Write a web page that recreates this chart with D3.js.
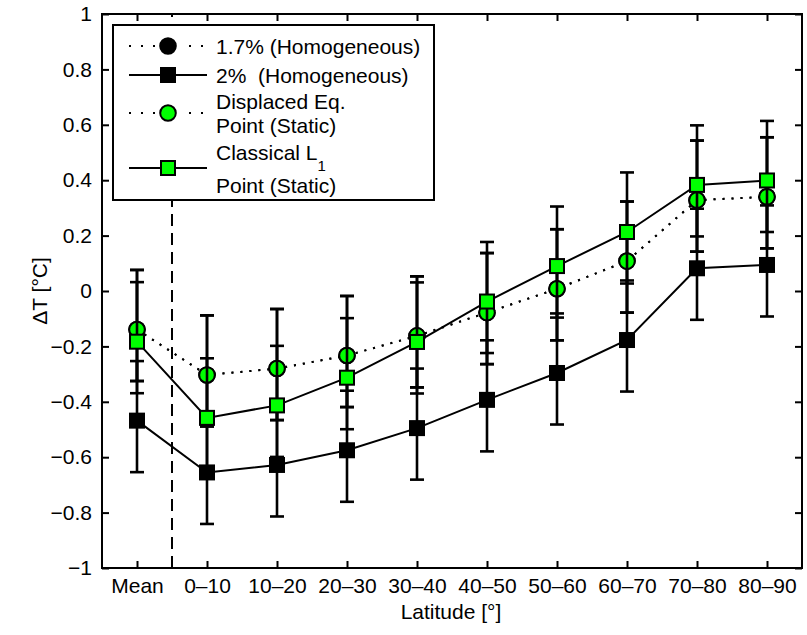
<!DOCTYPE html>
<html>
<head>
<meta charset="utf-8">
<script src="https://cdn.jsdelivr.net/npm/d3@7"></script>
<style>
  html, body { margin: 0; padding: 0; background: #fff; }
  svg text { font-family: "Liberation Sans", Arial, Helvetica, sans-serif; fill: #000; }
</style>
</head>
<body>
<svg id="chart" width="807" height="635"></svg>
<script>
// Latitude bands (index 1..10 on the x axis)
const categories = ["Mean", "0\u201310", "10\u201320", "20\u201330", "30\u201340",
                    "40\u201350", "50\u201360", "60\u201370", "70\u201380", "80\u201390"];

// Temperature change ΔT [°C] for each case
const homog17     = [-0.139, -0.303, -0.280, -0.233, -0.162, -0.078, 0.008, 0.108, 0.328, 0.340];
const homog2      = [-0.468, -0.655, -0.628, -0.575, -0.495, -0.393, -0.296, -0.177, 0.082, 0.094];
const displacedEq = [-0.139, -0.303, -0.280, -0.233, -0.162, -0.078, 0.008, 0.108, 0.328, 0.340];
const classicalL1 = [-0.183, -0.458, -0.413, -0.313, -0.184, -0.038, 0.090, 0.213, 0.383, 0.399];

// Error bar extents (upper / lower) per band
const errUpper = [0.215, 0.215, 0.215, 0.215, 0.215, 0.215, 0.215, 0.215, 0.215, 0.215];
const errLower = [0.186, 0.186, 0.186, 0.186, 0.186, 0.186, 0.186, 0.186, 0.186, 0.186];

const yTicks = [-1, -0.8, -0.6, -0.4, -0.2, 0, 0.2, 0.4, 0.6, 0.8, 1];
const yTickLabels = ["\u22121", "\u22120.8", "\u22120.6", "\u22120.4", "\u22120.2", "0",
                     "0.2", "0.4", "0.6", "0.8", "1"];

const legendLabels = [
  ["1.7% (Homogeneous)"],
  ["2%\u00a0 (Homogeneous)"],
  ["Displaced Eq.", "Point (Static)"],
  ["Classical L", "Point (Static)"]
];

const series = [
  { values: homog17,     marker: "circle", fill: "#000000", dotted: true },
  { values: homog2,      marker: "square", fill: "#000000", dotted: false },
  { values: displacedEq, marker: "circle", fill: "#00ff00", dotted: true },
  { values: classicalL1, marker: "square", fill: "#00ff00", dotted: false }
];

const svg = d3.select("#chart");
const plotL = 102, plotR = 802, plotT = 14, plotB = 568;
const x = d3.scaleLinear().domain([0.5, 10.5]).range([plotL, plotR]);
const y = d3.scaleLinear().domain([-1, 1]).range([plotB, plotT]);
const xIdx = d3.range(1, categories.length + 1);

const fontSize = 21;

// Divider between the mean and the latitude bands
svg.append("line")
  .attr("x1", x(1.5)).attr("x2", x(1.5))
  .attr("y1", y(-1)).attr("y2", y(1))
  .attr("stroke", "#000").attr("stroke-width", 2)
  .attr("stroke-dasharray", "12,7");

function drawMarker(g, type, cx, cy, fill) {
  if (type === "circle") {
    g.append("circle").attr("cx", cx).attr("cy", cy).attr("r", 7.8)
      .attr("fill", fill).attr("stroke", "#000").attr("stroke-width", 2);
  } else {
    const s = fill === "#000000" ? 16 : 14;
    g.append("rect").attr("x", cx - s / 2).attr("y", cy - s / 2)
      .attr("width", s).attr("height", s)
      .attr("fill", fill).attr("stroke", "#000").attr("stroke-width", fill === "#000000" ? 0 : 2);
  }
}

const line = d3.line().x((d, i) => x(xIdx[i])).y(d => y(d));

series.forEach(s => {
  const g = svg.append("g");
  // error bars
  s.values.forEach((v, i) => {
    const cx = x(xIdx[i]);
    const hi = y(v + errUpper[i]), lo = y(v - errLower[i]);
    g.append("line").attr("x1", cx).attr("x2", cx).attr("y1", hi).attr("y2", lo)
      .attr("stroke", "#000").attr("stroke-width", 2.6);
    [hi, lo].forEach(yy => {
      g.append("line").attr("x1", cx - 7).attr("x2", cx + 7).attr("y1", yy).attr("y2", yy)
        .attr("stroke", "#000").attr("stroke-width", 2.6);
    });
  });
  // connecting line
  g.append("path").attr("d", line(s.values))
    .attr("fill", "none").attr("stroke", "#000").attr("stroke-width", 2)
    .attr("stroke-dasharray", s.dotted ? "2,7" : null);
  // markers
  s.values.forEach((v, i) => drawMarker(g, s.marker, x(xIdx[i]), y(v), s.fill));
});

// Axes box
svg.append("rect")
  .attr("x", plotL).attr("y", plotT).attr("width", plotR - plotL).attr("height", plotB - plotT)
  .attr("fill", "none").attr("stroke", "#000").attr("stroke-width", 2);

const axisStyle = g => {
  g.select(".domain").remove();
  g.selectAll(".tick line").attr("stroke", "#000").attr("stroke-width", 2);
  g.selectAll(".tick text").attr("font-size", fontSize).attr("fill", "#000")
    .attr("font-family", "Liberation Sans, Arial, sans-serif");
};

svg.append("g").attr("transform", `translate(0,${plotB})`)
  .call(d3.axisBottom(x).tickValues(xIdx).tickSizeInner(-7).tickSizeOuter(0)
    .tickPadding(10).tickFormat(d => categories[d - 1]))
  .call(axisStyle);
svg.append("g").attr("transform", `translate(0,${plotT})`)
  .call(d3.axisTop(x).tickValues(xIdx).tickSizeInner(-7).tickSizeOuter(0).tickFormat(""))
  .call(axisStyle);
svg.append("g").attr("transform", `translate(${plotL},0)`)
  .call(d3.axisLeft(y).tickValues(yTicks).tickSizeInner(-7).tickSizeOuter(0)
    .tickPadding(10).tickFormat((d, i) => yTickLabels[i]))
  .call(axisStyle);
svg.append("g").attr("transform", `translate(${plotR},0)`)
  .call(d3.axisRight(y).tickValues(yTicks).tickSizeInner(-7).tickSizeOuter(0).tickFormat(""))
  .call(axisStyle);

// Axis titles
svg.append("text").attr("x", 451).attr("y", 619)
  .attr("text-anchor", "middle").attr("font-size", fontSize).text("Latitude [\u00b0]");
svg.append("text").attr("transform", `translate(47,${y(0)}) rotate(-90)`)
  .attr("text-anchor", "middle").attr("font-size", fontSize).text("\u0394T [\u00b0C]");

// Legend
const lg = svg.append("g");
lg.append("rect").attr("x", 113).attr("y", 25).attr("width", 321).attr("height", 175)
  .attr("fill", "#fff").attr("stroke", "#000").attr("stroke-width", 2);
const rows = [
  { cy: 46,  lines: [46] },
  { cy: 75,  lines: [75] },
  { cy: 113, lines: [101, 125] },
  { cy: 168, lines: [152, 185] }
];
rows.forEach((r, k) => {
  const s = series[k];
  lg.append("line").attr("x1", 129).attr("x2", 207).attr("y1", r.cy).attr("y2", r.cy)
    .attr("stroke", "#000").attr("stroke-width", 2)
    .attr("stroke-dasharray", s.dotted ? "2,10" : null);
  if (s.dotted) {
    // keep the dots clear of the marker
    lg.append("rect").attr("x", 156).attr("y", r.cy - 4).attr("width", 24).attr("height", 8).attr("fill", "#fff");
  }
  drawMarker(lg, s.marker, 168, r.cy, s.fill);
  legendLabels[k].forEach((t, j) => {
    const txt = lg.append("text").attr("x", 216).attr("y", r.lines[j] + 7.5).attr("font-size", fontSize);
    txt.append("tspan").text(t);
    if (k === 3 && j === 0) {
      txt.append("tspan").attr("dy", 11).attr("font-size", 15).text("1");
    }
  });
});
</script>
</body>
</html>
